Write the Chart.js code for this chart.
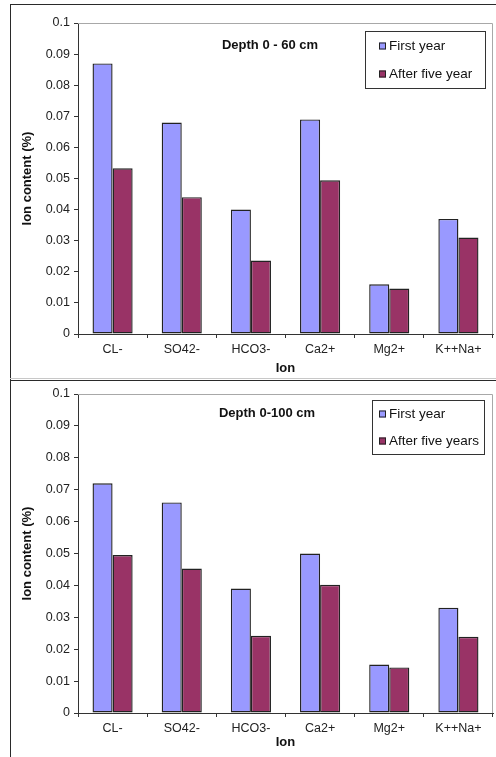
<!DOCTYPE html>
<html>
<head>
<meta charset="utf-8">
<script src="https://cdn.jsdelivr.net/npm/chart.js@4/dist/chart.umd.min.js"></script>
<style>
  html, body { margin: 0; padding: 0; background: #fff; }
  #page { position: relative; width: 496px; height: 757px; overflow: hidden; }
  .rule { position: absolute; background: #2a2a2a; }
  canvas { position: absolute; }
</style>
</head>
<body>
<div id="page">
  <div class="rule" style="left:10px;top:4px;width:486px;height:1px;"></div>
  <div class="rule" style="left:10px;top:4px;width:1px;height:753px;"></div>
  <div class="rule" style="left:10px;top:378px;width:486px;height:1px;background:#c8c8c8;"></div>
  <div class="rule" style="left:10px;top:380px;width:486px;height:1px;"></div>
  <canvas id="c60" width="485" height="374" style="left:11px;top:6px;"></canvas>
  <canvas id="c100" width="485" height="376" style="left:11px;top:381px;"></canvas>
</div>
<script>
// Ion names along the x axis
const ions = ['CL-', 'SO42-', 'HCO3-', 'Ca2+', 'Mg2+', 'K++Na+'];

// Ion content (%) in the 0-60 cm layer
const firstYear60 = [0.087, 0.068, 0.040, 0.069, 0.016, 0.037];
const fiveYear60 = [0.0533, 0.044, 0.0236, 0.0494, 0.0146, 0.031];

// Ion content (%) in the 0-100 cm layer
const firstYear100 = [0.072, 0.066, 0.039, 0.050, 0.0152, 0.033];
const fiveYear100 = [0.0495, 0.0453, 0.0242, 0.0402, 0.0143, 0.0239];

const FONT = "'Liberation Sans', Arial, sans-serif";
const INK = '#222';
const BLUE = '#9999FF';
const PLUM = '#993366';

// Frame, in-plot heading and boxed legend drawn on the chart canvas
const panelDecor = {
  id: 'panelDecor',
  beforeDatasetsDraw(chart) {
    const { ctx, chartArea: a } = chart;
    ctx.save();
    ctx.strokeStyle = '#a8a8a8';
    ctx.lineWidth = 1;
    ctx.beginPath();
    ctx.moveTo(a.left, a.top + 0.5);
    ctx.lineTo(a.right - 0.5, a.top + 0.5);
    ctx.lineTo(a.right - 0.5, a.bottom);
    ctx.stroke();
    ctx.restore();
  },
  afterDraw(chart) {
    const o = chart.options.plugins.panelDecor;
    const ctx = chart.ctx;
    ctx.save();
    // heading
    ctx.fillStyle = '#111';
    ctx.font = 'bold 13px ' + FONT;
    ctx.textAlign = 'center';
    ctx.textBaseline = 'middle';
    ctx.fillText(o.title, o.titleX, o.titleY);
    // legend box
    const b = o.legend;
    ctx.fillStyle = '#fff';
    ctx.fillRect(b.x, b.y, b.w, b.h);
    ctx.strokeStyle = '#333';
    ctx.lineWidth = 1;
    ctx.strokeRect(b.x + 0.5, b.y + 0.5, b.w, b.h);
    ctx.font = '13.5px ' + FONT;
    ctx.textAlign = 'left';
    chart.data.datasets.forEach((ds, i) => {
      const cy = b.rows[i];
      ctx.fillStyle = ds.backgroundColor;
      ctx.fillRect(b.markX, cy - 3.5, 7, 7);
      ctx.strokeStyle = '#222';
      ctx.strokeRect(b.markX + 0.5, cy - 3.5 + 0.5, 6, 6);
      ctx.fillStyle = '#111';
      ctx.fillText(ds.label, b.textX, cy + 0.5);
    });
    ctx.restore();
  }
};

function makePanel(id, firstVals, fiveVals, fiveLabel, decor, xTitlePad, yTop) {
  return new Chart(document.getElementById(id), {
    type: 'bar',
    data: {
      labels: ions,
      datasets: [
        { label: 'First year', data: firstVals, backgroundColor: BLUE, borderColor: INK, borderWidth: 1.4, borderSkipped: false },
        { label: fiveLabel, data: fiveVals, backgroundColor: PLUM, borderColor: INK, borderWidth: 1.4, borderSkipped: false }
      ]
    },
    options: {
      responsive: false,
      animation: false,
      devicePixelRatio: 1,
      layout: { padding: { left: 0, right: 3, top: yTop, bottom: 0 } },
      datasets: { bar: { categoryPercentage: 0.58, barPercentage: 1 } },
      plugins: {
        legend: { display: false },
        tooltip: { enabled: false },
        panelDecor: decor
      },
      scales: {
        x: {
          grid: { display: true, drawOnChartArea: false, tickLength: 4, color: '#333', offset: true },
          border: { display: true, color: '#333', width: 1 },
          ticks: { color: INK, font: { family: FONT, size: 12.5 }, padding: 4, maxRotation: 0 },
          title: { display: true, text: 'Ion', color: '#111', font: { family: FONT, size: 13, weight: 'bold' }, padding: { top: 0, bottom: xTitlePad } },
          afterFit(s) { s.height = s.chart.height - yTop - decor.plotH; }
        },
        y: {
          min: 0,
          max: 0.1,
          grid: { display: true, drawOnChartArea: false, tickLength: 4, color: '#333' },
          border: { display: true, color: '#333', width: 1 },
          ticks: {
            stepSize: 0.01,
            color: INK,
            font: { family: FONT, size: 12.5 },
            padding: 4,
            callback: v => String(Number(v.toFixed(2)))
          },
          title: { display: true, text: 'Ion content (%)', color: '#111', font: { family: FONT, size: 13, weight: 'bold' }, padding: { top: 8.5, bottom: 0 } },
          afterFit(s) { s.width = 67; }
        }
      }
    },
    plugins: [panelDecor]
  });
}

makePanel('c60', firstYear60, fiveYear60, 'After five year', {
  title: 'Depth 0 - 60 cm', titleX: 259, titleY: 39, plotH: 311,
  legend: { x: 354, y: 25, w: 120, h: 57, rows: [40, 68], markX: 368, textX: 378 }
}, 4.2, 17);

makePanel('c100', firstYear100, fiveYear100, 'After five years', {
  title: 'Depth 0-100 cm', titleX: 256, titleY: 32, plotH: 319,
  legend: { x: 361, y: 19, w: 112, h: 54, rows: [33, 60], markX: 368, textX: 378 }
}, 6.5, 13);
</script>
</body>
</html>
